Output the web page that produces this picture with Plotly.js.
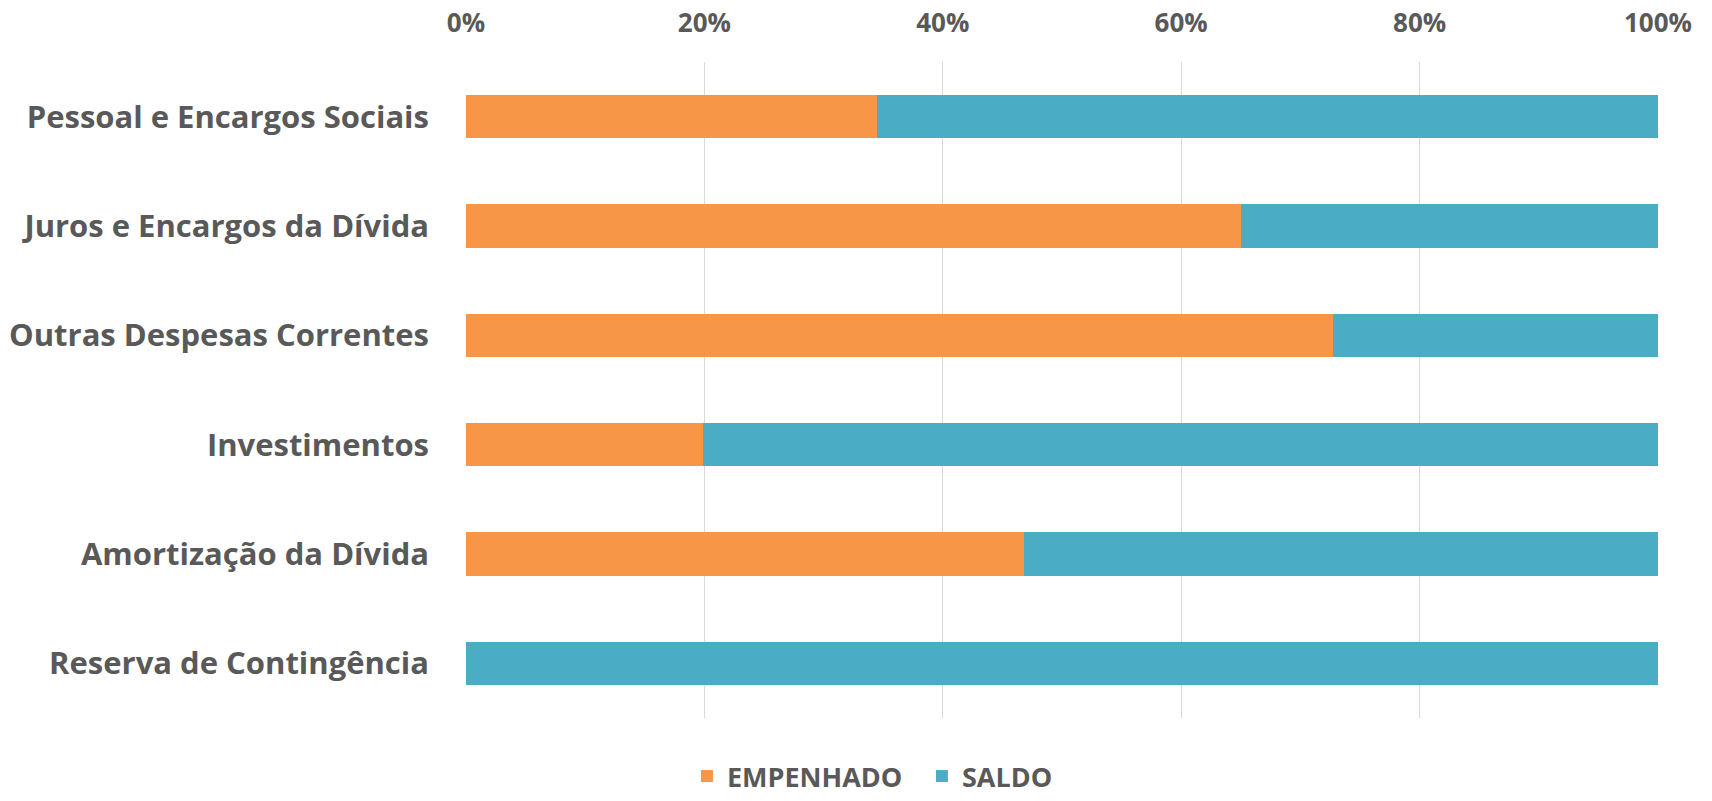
<!DOCTYPE html>
<html>
<head>
<meta charset="utf-8">
<script src="https://cdn.plot.ly/plotly-3.0.1.min.js"></script>
<style>
html,body{margin:0;padding:0;background:#fff;}
#chart{width:1712px;height:801px;}
</style>
</head>
<body>
<div id="chart"></div>
<script>
const categories = [
  "Pessoal e Encargos Sociais",
  "Juros e Encargos da Dívida",
  "Outras Despesas Correntes",
  "Investimentos",
  "Amortização da Dívida",
  "Reserva de Contingência"
];
const empenhado = [34.5, 65.0, 72.7, 19.9, 46.8, 0.0];
const saldo = [65.5, 35.0, 27.3, 80.1, 53.2, 100.0];
const seriesNames = ["EMPENHADO", "SALDO"];
const tickValues = [0, 20, 40, 60, 80, 100];
const tickLabels = ["0%", "20%", "40%", "60%", "80%", "100%"];

const textColor = "#595959";
const fontFamily = "'Open Sans', 'DejaVu Sans', sans-serif";

const traces = [
  {type: "bar", orientation: "h", name: seriesNames[0], y: categories, x: empenhado,
   marker: {color: "#F79646", line: {width: 0}}, hoverinfo: "x+y+name"},
  {type: "bar", orientation: "h", name: seriesNames[1], y: categories, x: saldo,
   marker: {color: "#4BACC6", line: {width: 0}}, hoverinfo: "x+y+name"}
];

const layout = {
  width: 1712, height: 801,
  margin: {l: 466, r: 54, t: 62, b: 83, autoexpand: false},
  paper_bgcolor: "#fff", plot_bgcolor: "#fff",
  barmode: "stack",
  bargap: 0.604,
  font: {family: fontFamily, color: textColor},
  xaxis: {
    side: "top", range: [0, 100], tickvals: tickValues, ticktext: tickLabels,
    showgrid: true, gridcolor: "#D9D9D9", gridwidth: 1.3,
    zeroline: false, showline: false, ticks: "",
    tickfont: {family: fontFamily, size: 26, color: textColor, weight: "bold"},
    ticklabelstandoff: 24, fixedrange: true, automargin: false
  },
  yaxis: {
    autorange: "reversed", showgrid: false, zeroline: false, showline: false, ticks: "",
    tickfont: {family: fontFamily, size: 31, color: textColor, weight: "bold"},
    ticklabelstandoff: 36, fixedrange: true, automargin: false
  },
  showlegend: true,
  legend: {
    orientation: "h", x: 0.3825, xanchor: "center",
    yref: "container", y: 0, yanchor: "bottom",
    font: {family: fontFamily, size: 27, color: textColor, weight: "bold"},
    entrywidth: 190,
    traceorder: "normal", itemclick: false, itemdoubleclick: false
  }
};

Plotly.newPlot("chart", traces, layout, {displayModeBar: false});
</script>
</body>
</html>
